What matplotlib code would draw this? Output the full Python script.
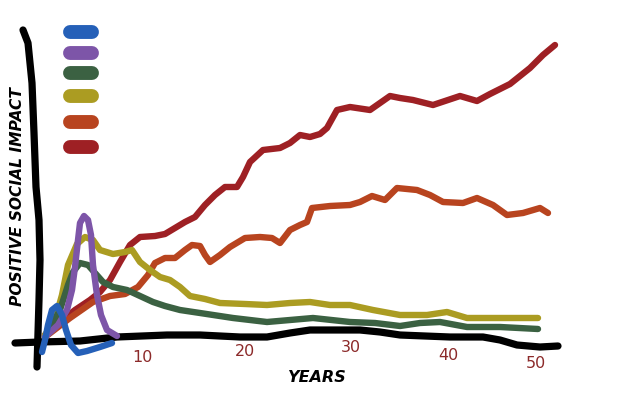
"""
Hand-drawn style chart: positive social impact over fifty years
for six series, with a swatch-only legend in the top left.
Output: out.png (640x400)
"""
import matplotlib
matplotlib.use("Agg")
import matplotlib.pyplot as plt

# ── Data (years, impact) ─────────────────────────────────────────────────────
red_x = [0.3, 1.8, 3.3, 4.8, 5.8, 6.8, 7.8, 8.8, 9.8, 11.3, 12.3, 13.3, 14.3,
         15.3, 16.3, 17.3, 18.3, 19.5, 20.1, 20.8, 22.1, 23.8, 24.8, 25.8,
         26.8, 27.8, 28.5, 29.5, 30.8, 32.8, 33.8, 34.8, 35.8, 37.1, 39.1,
         40.6, 41.8, 43.5, 44.8, 46.8, 48.8, 50.1, 51.3]
red_y = [0.8, 2.1, 3.3, 4.3, 5.1, 6.3, 8.1, 9.8, 10.6, 10.7, 10.9, 11.5, 12.1,
         12.6, 13.8, 14.8, 15.6, 15.6, 16.6, 18.1, 19.3, 19.5, 20.0, 20.8,
         20.6, 20.9, 21.5, 23.3, 23.6, 23.3, 24.0, 24.7, 24.5, 24.3, 23.8,
         24.3, 24.7, 24.2, 24.9, 25.9, 27.5, 28.8, 29.8]

orange_x = [0.3, 2.8, 5.1, 6.8, 8.3, 9.6, 10.6, 11.3, 12.3, 13.3, 14.3, 15.0,
            15.8, 16.3, 16.8, 17.8, 18.8, 20.3, 21.8, 23.0, 23.8, 24.8, 25.8,
            26.5, 27.0, 28.8, 30.8, 31.8, 33.0, 34.3, 35.5, 37.5, 38.8, 40.1,
            42.1, 43.5, 45.1, 46.5, 48.1, 49.8, 50.6]
orange_y = [0.6, 2.5, 4.1, 4.7, 4.9, 5.6, 6.8, 8.0, 8.5, 8.5, 9.3, 9.8,
            9.7, 8.8, 8.1, 8.8, 9.6, 10.5, 10.6, 10.5, 10.0, 11.3, 11.8,
            12.1, 13.5, 13.7, 13.8, 14.1, 14.7, 14.3, 15.5, 15.3, 14.8, 14.1,
            14.0, 14.5, 13.8, 12.8, 13.0, 13.5, 13.0]

olive_x = [0.3, 1.3, 2.0, 2.6, 3.5, 4.3, 5.1, 5.8, 7.1, 8.3, 9.0, 9.8, 10.8,
           11.8, 12.8, 13.8, 14.8, 16.3, 17.8, 20.3, 22.5, 24.8, 26.8, 28.8,
           30.8, 33.1, 35.8, 38.5, 40.5, 42.5, 45.8, 49.6]
olive_y = [0.8, 2.3, 4.8, 7.8, 9.9, 10.6, 10.3, 9.3, 8.9, 9.1, 9.3, 8.1, 7.3,
           6.6, 6.3, 5.6, 4.7, 4.4, 4.0, 3.9, 3.8, 4.0, 4.1, 3.8,
           3.8, 3.3, 2.8, 2.8, 3.1, 2.5, 2.5, 2.5]

green_x = [0.8, 1.8, 2.6, 3.1, 3.8, 4.6, 5.3, 6.1, 7.1, 8.5, 9.8, 11.1, 12.3,
           13.8, 15.8, 19.1, 22.5, 24.8, 27.1, 30.8, 33.3, 35.8, 37.8, 39.8,
           42.5, 45.8, 49.6]
green_y = [1.5, 3.3, 5.8, 7.1, 8.0, 7.8, 7.0, 6.1, 5.6, 5.3, 4.7, 4.1, 3.7,
           3.3, 3.0, 2.5, 2.1, 2.3, 2.5, 2.1, 2.0, 1.7, 2.0, 2.1,
           1.6, 1.6, 1.4]

purple_x = [0.3, 1.6, 2.5, 3.0, 3.3, 3.6, 3.8, 4.2, 4.6, 4.9, 5.1, 5.5, 5.9,
            6.5, 7.5]
purple_y = [0.6, 1.8, 3.3, 5.3, 7.6, 10.3, 12.0, 12.7, 12.3, 10.8, 7.8, 4.8,
            2.8, 1.3, 0.7]

blue_x = [0.0, 0.3, 0.6, 1.0, 1.5, 2.0, 2.4, 2.9, 3.6, 4.5, 5.8, 7.0]
blue_y = [-0.9, 0.3, 1.8, 3.3, 3.7, 2.8, 1.3, -0.2, -1.0, -0.8, -0.4, 0.0]

# hand-drawn axes
xaxis_x = [-2.7, -0.2, 3.8, 7.5, 12.5, 15.8, 19.8, 22.5, 24.8, 26.8, 31.8,
           33.8, 35.8, 40.8, 44.1, 45.8, 47.5, 49.8, 51.6]
xaxis_y = [0.0, 0.1, 0.2, 0.6, 0.8, 0.8, 0.6, 0.6, 1.0, 1.3, 1.3,
           1.1, 0.8, 0.6, 0.6, 0.3, -0.2, -0.4, -0.3]
yaxis_x = [-1.9, -1.4, -1.0, -0.8, -0.6, -0.3, -0.2, -0.3, -0.4, -0.5]
yaxis_y = [31.3, 30.0, 26.0, 21.0, 15.6, 12.3, 8.3, 4.3, 1.0, -2.4]

# tick labels, each sits at its own height in the sketch
tick_labels = ["10", "20", "30", "40", "50"]
tick_x = [10.0, 20.3, 30.9, 40.6, 49.4]
tick_y = [-1.4, -0.9, -0.5, -1.3, -2.0]

# ── Styling ──────────────────────────────────────────────────────────────────
C_BLUE   = "#2560b8"
C_PURPLE = "#7d55a8"
C_GREEN  = "#3b6142"
C_OLIVE  = "#ab9c22"
C_ORANGE = "#b8441f"
C_RED    = "#9e2024"
C_TICK   = "#8c2a2a"

series = [
    (red_x, red_y, C_RED),
    (orange_x, orange_y, C_ORANGE),
    (olive_x, olive_y, C_OLIVE),
    (green_x, green_y, C_GREEN),
    (purple_x, purple_y, C_PURPLE),
    (blue_x, blue_y, C_BLUE),
]
legend_colors = [C_BLUE, C_PURPLE, C_GREEN, C_OLIVE, C_ORANGE, C_RED]
legend_rows = [31.1, 29.0, 27.0, 24.7, 22.1, 19.6]

fig = plt.figure(figsize=(6.4, 4.0), dpi=100)
fig.patch.set_facecolor("white")
ax = fig.add_axes([0, 0, 1, 1])
ax.set_xlim(-4.2, 59.8)
ax.set_ylim(-5.7, 34.3)
ax.axis("off")

pen = dict(solid_capstyle="round", solid_joinstyle="round")

ax.plot(yaxis_x, yaxis_y, color="black", lw=5.2, zorder=2, **pen)
ax.plot(xaxis_x, xaxis_y, color="black", lw=5.2, zorder=2, **pen)

for xs, ys, col in series:
    ax.plot(xs, ys, color=col, lw=4.6, zorder=3, **pen)

# swatch legend (no labels in the sketch)
for col, yy in zip(legend_colors, legend_rows):
    ax.plot([2.8, 5.0], [yy, yy], color=col, lw=10, zorder=3, **pen)

for lbl, tx, ty in zip(tick_labels, tick_x, tick_y):
    ax.text(tx, ty, lbl, color=C_TICK, fontsize=11.5,
            ha="center", va="center")

ax.text(27.5, -3.5, "YEARS", fontsize=11.5, fontweight="bold",
        fontstyle="italic", ha="center", va="center")
ax.text(-2.4, 14.6, "POSITIVE SOCIAL IMPACT", fontsize=11.2,
        fontweight="bold", fontstyle="italic", rotation=90,
        ha="center", va="center")

fig.savefig("out.png", dpi=100, facecolor=fig.get_facecolor())
plt.close(fig)
